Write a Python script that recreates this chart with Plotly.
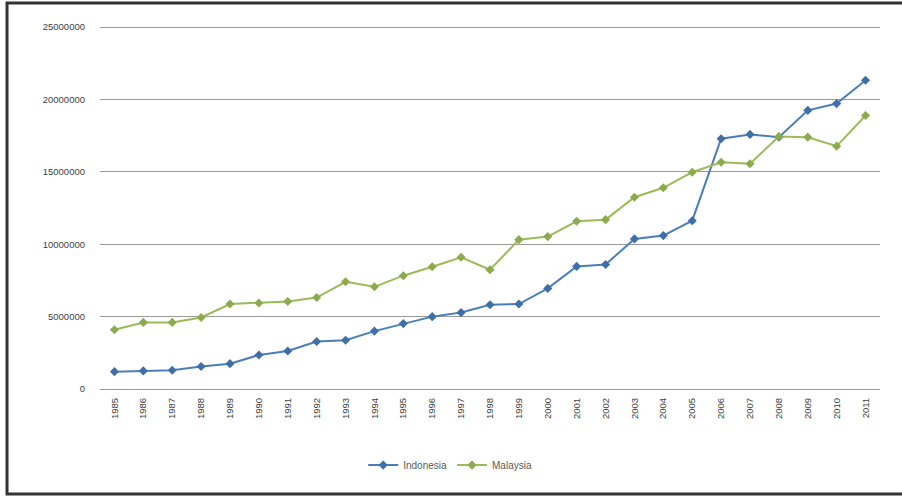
import plotly.graph_objects as go

years = [str(y) for y in range(1985, 2012)]
indonesia = [1200000, 1250000, 1300000, 1550000, 1750000, 2350000, 2630000, 3280000, 3370000,
             4000000, 4520000, 5000000, 5280000, 5820000, 5870000, 6950000, 8470000, 8600000,
             10370000, 10600000, 11630000, 17290000, 17590000, 17400000, 19250000, 19720000, 21330000]
malaysia = [4090000, 4600000, 4600000, 4940000, 5870000, 5940000, 6050000, 6320000, 7410000,
            7060000, 7830000, 8450000, 9100000, 8240000, 10320000, 10530000, 11590000, 11700000,
            13250000, 13900000, 14980000, 15670000, 15560000, 17450000, 17400000, 16780000, 18900000]
y_ticks = [0, 5000000, 10000000, 15000000, 20000000, 25000000]
y_tick_labels = ["0", "5000000", "10000000", "15000000", "20000000", "25000000"]

fig = go.Figure()
fig.add_trace(go.Scatter(x=years, y=indonesia, name="Indonesia", mode="lines+markers",
                         line=dict(color="#4A7EBB", width=2),
                         marker=dict(symbol="diamond", size=7, color="#3F6FA8")))
fig.add_trace(go.Scatter(x=years, y=malaysia, name="Malaysia", mode="lines+markers",
                         line=dict(color="#9BBB59", width=2),
                         marker=dict(symbol="diamond", size=7, color="#8DAA4E")))

fig.update_layout(
    width=902, height=496,
    margin=dict(l=100, r=22, t=25, b=107),
    paper_bgcolor="white", plot_bgcolor="white",
    font=dict(family="Liberation Sans", size=9.5, color="#404040"),
    showlegend=True,
    legend=dict(orientation="h", x=0.449, y=-0.209, xanchor="center", yanchor="middle",
                font=dict(size=10, color="#595959"), itemwidth=30),
    xaxis=dict(type="category", tickangle=-90, showgrid=False, showline=False,
               ticks="", ticklabelstandoff=6, range=[-0.5, 26.5]),
    yaxis=dict(range=[0, 25150000], tickvals=y_ticks, ticktext=y_tick_labels,
               showgrid=True, gridcolor="#9a9a9a", gridwidth=1, zeroline=True,
               zerolinecolor="#9a9a9a", zerolinewidth=1, ticks="", ticklabelstandoff=14),
    shapes=[dict(type="rect", xref="paper", yref="paper",
                 x0=-0.1192, x1=1.06, y0=-0.2885, y1=1.0604,
                 line=dict(color="#333333", width=3))],
)

fig.write_html("out.html")
